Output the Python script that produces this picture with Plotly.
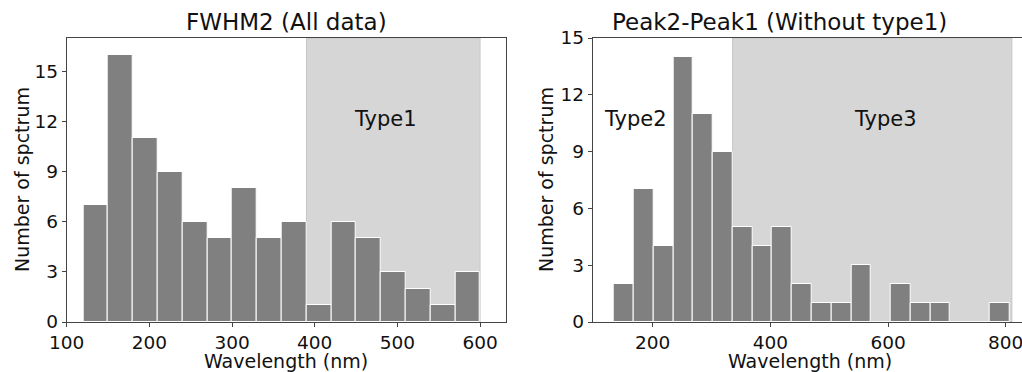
import plotly.graph_objects as go

# ---- data ----
left_edges = [120, 150, 180, 210, 240, 270, 300, 330, 360, 390, 420, 450, 480, 510, 540, 570, 600]
left_counts = [7, 16, 11, 9, 6, 5, 8, 5, 6, 1, 6, 5, 3, 2, 1, 3]

right_edges = [134.2, 167.8, 201.4, 235.0, 268.6, 302.2, 335.8, 369.4, 403.0, 436.6, 470.2,
               503.8, 537.4, 571.0, 604.6, 638.2, 671.8, 705.4, 739.0, 772.6, 806.2]
right_counts = [2, 7, 4, 14, 11, 9, 5, 4, 5, 2, 1, 1, 3, 0, 2, 1, 1, 0, 0, 1]

left_span = [390, 600]
right_span = [335.8, 810.5]

left_title = "FWHM2 (All data)"
right_title = "Peak2-Peak1 (Without type1)"
x_label = "Wavelength (nm)"
y_label = "Number of spctrum"

W, H = 1022, 372
FONT = "DejaVu Sans"
BAR = "#808080"
SPAN = "#d6d6d6"
AX = "#444444"


def centers(edges):
    return [(a + b) / 2 for a, b in zip(edges[:-1], edges[1:])]


def widths(edges):
    return [b - a for a, b in zip(edges[:-1], edges[1:])]


fig = go.Figure()
fig.add_trace(go.Bar(x=centers(left_edges), y=left_counts, width=widths(left_edges),
                     marker=dict(color=BAR, line=dict(color="white", width=1)),
                     xaxis="x", yaxis="y", showlegend=False))
fig.add_trace(go.Bar(x=centers(right_edges), y=right_counts, width=widths(right_edges),
                     marker=dict(color=BAR, line=dict(color="white", width=1)),
                     xaxis="x2", yaxis="y2", showlegend=False))

ydom = [1 - 322 / H, 1 - 38 / H]
ax_common = dict(ticks="outside", ticklen=4, tickwidth=1, tickcolor=AX, showgrid=False,
                 zeroline=False, linecolor=AX, linewidth=1, showline=True, automargin=False,
                 ticklabeloverflow="allow",
                 tickfont=dict(family=FONT, size=18.5, color="#111"))

fig.update_layout(
    template="none",
    width=W, height=H, margin=dict(l=0, r=0, t=0, b=0, pad=0), autosize=False,
    paper_bgcolor="white", plot_bgcolor="white", bargap=0, barmode="overlay",
    font=dict(family=FONT, color="#111"),
    xaxis=dict(domain=[66.7 / W, 505.7 / W], range=[100, 631], tickvals=[100, 200, 300, 400, 500, 600],
               mirror=True, anchor="y", **ax_common),
    yaxis=dict(domain=ydom, range=[0, 17], tickvals=[0, 3, 6, 9, 12, 15], mirror=True,
               anchor="x", **ax_common),
    xaxis2=dict(domain=[592.7 / W, 1.0], range=[98, 827.7], tickvals=[200, 400, 600, 800],
                mirror=True, anchor="y2", **ax_common),
    yaxis2=dict(domain=ydom, range=[0, 15], tickvals=[0, 3, 6, 9, 12, 15], mirror=False,
                anchor="x2", **ax_common),
    shapes=[
        dict(type="rect", xref="x", yref="y domain", x0=left_span[0], x1=left_span[1], y0=0, y1=1,
             fillcolor=SPAN, line=dict(color="#c6c6c6", width=1), layer="below"),
        dict(type="rect", xref="x2", yref="y2 domain", x0=right_span[0], x1=right_span[1], y0=0, y1=1,
             fillcolor=SPAN, line=dict(color="#c6c6c6", width=1), layer="below"),
    ],
    annotations=[
        dict(text=left_title, x=286 / W, y=1 - 22 / H, xref="paper", yref="paper",
             showarrow=False, font=dict(size=23, family=FONT, color="#111"),
             xanchor="center", yanchor="middle"),
        dict(text=right_title, x=779 / W, y=1 - 22 / H, xref="paper", yref="paper",
             showarrow=False, font=dict(size=23, family=FONT, color="#111"),
             xanchor="center", yanchor="middle"),
        dict(text=x_label, x=286 / W, y=1 - 361 / H, xref="paper", yref="paper",
             showarrow=False, font=dict(size=19, family=FONT, color="#111"),
             xanchor="center", yanchor="middle"),
        dict(text=x_label, x=810 / W, y=1 - 361 / H, xref="paper", yref="paper",
             showarrow=False, font=dict(size=19, family=FONT, color="#111"),
             xanchor="center", yanchor="middle"),
        dict(text=y_label, x=22 / W, y=1 - 180 / H, xref="paper", yref="paper", textangle=-90,
             showarrow=False, font=dict(size=19, family=FONT, color="#111"),
             xanchor="center", yanchor="middle"),
        dict(text=y_label, x=546 / W, y=1 - 180 / H, xref="paper", yref="paper", textangle=-90,
             showarrow=False, font=dict(size=19, family=FONT, color="#111"),
             xanchor="center", yanchor="middle"),
        dict(text="Type1", x=485, y=12.15, xref="x", yref="y", showarrow=False,
             font=dict(size=21, family=FONT, color="#111"), xanchor="center", yanchor="middle"),
        dict(text="Type2", x=170, y=10.72, xref="x2", yref="y2", showarrow=False,
             font=dict(size=21, family=FONT, color="#111"), xanchor="center", yanchor="middle"),
        dict(text="Type3", x=595, y=10.72, xref="x2", yref="y2", showarrow=False,
             font=dict(size=21, family=FONT, color="#111"), xanchor="center", yanchor="middle"),
    ],
)

fig.write_html("out.html")
